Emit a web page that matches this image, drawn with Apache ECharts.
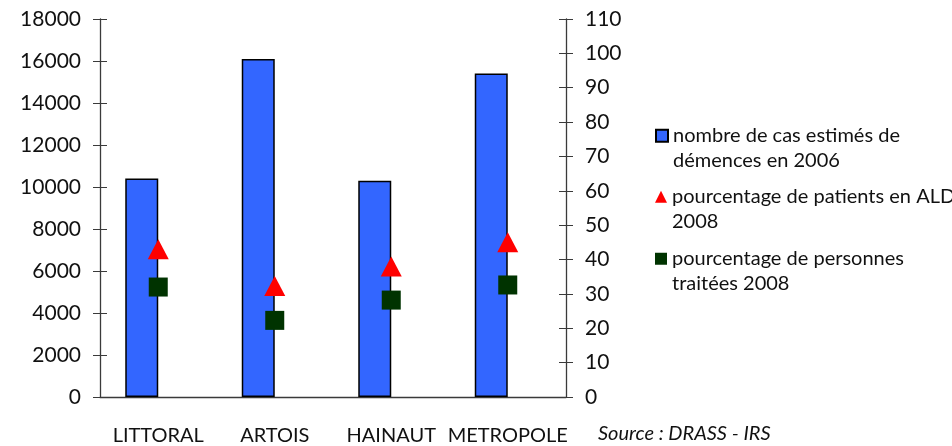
<!DOCTYPE html>
<html>
<head>
<meta charset="utf-8">
<script src="https://cdn.jsdelivr.net/npm/echarts@6/dist/echarts.min.js"></script>
<style>
  html, body { margin: 0; padding: 0; background: #fff; }
  #chart { width: 952px; height: 446px; }
</style>
</head>
<body>
<div id="chart"></div>
<script>
var categories = ["LITTORAL", "ARTOIS", "HAINAUT", "METROPOLE"];
var casEstimes = [10400, 16100, 10300, 15400];
var pctALD = [43, 32.3, 38, 45];
var pctTraitees = [32, 22.3, 28.2, 32.6];
var leftTicks = { min: 0, max: 18000, interval: 2000 };
var rightTicks = { min: 0, max: 110, interval: 10 };

var nameBar = "nombre de cas estimés de\ndémences en 2006";
var nameTri = "pourcentage de patients en ALD\n2008";
var nameSq = "pourcentage de personnes\ntraitées 2008";

var font = "Lato, 'Open Sans', sans-serif";
var axisColor = "#3a3a3a";

var chart = echarts.init(document.getElementById("chart"));

// one legend per entry; the leading empty line keeps the icon on the first text line
function legendAt(name, icon, top) {
  return {
    data: [{ name: name, icon: icon }],
    orient: "vertical",
    left: 650,
    top: top,
    itemWidth: 12,
    itemHeight: 12,
    selectedMode: false,
    formatter: function (n) { return "\n" + n; },
    textStyle: {
      fontFamily: font,
      fontSize: 20,
      color: "#111",
      lineHeight: 24.5
    }
  };
}

chart.setOption({
  animation: false,
  grid: { left: 100, right: 386, top: 19, bottom: 49 },
  legend: [
    legendAt(nameBar, "rect", 94),
    legendAt(nameTri, "triangle", 155),
    legendAt(nameSq, "rect", 217)
  ],
  graphic: [
    {
      type: "text",
      left: 598,
      top: 424,
      style: {
        text: "Source : DRASS - IRS",
        fontFamily: font,
        fontStyle: "italic",
        fontSize: 20,
        fill: "#111"
      }
    }
  ],
  xAxis: [
    {
      type: "category",
      data: categories,
      axisLine: { lineStyle: { color: axisColor, width: 1.3 } },
      axisTick: { length: 7, lineStyle: { color: axisColor } },
      axisLabel: { interval: 0, margin: 29, fontFamily: font, fontSize: 20, color: "#111" }
    },
    {
      type: "category",
      data: categories,
      position: "bottom",
      axisLine: { show: false },
      axisTick: { inside: true, length: 7, lineStyle: { color: axisColor } },
      axisLabel: { show: false }
    }
  ],
  yAxis: [
    {
      type: "value",
      min: leftTicks.min, max: leftTicks.max, interval: leftTicks.interval,
      splitLine: { show: false },
      axisLine: { show: true, lineStyle: { color: axisColor, width: 1.3 } },
      axisTick: { show: true, length: 7, lineStyle: { color: axisColor } },
      axisLabel: {
        margin: 19, fontFamily: font, fontSize: 21, color: "#111",
        formatter: function (v) { return String(v); }
      }
    },
    {
      type: "value",
      position: "right",
      min: rightTicks.min, max: rightTicks.max, interval: rightTicks.interval,
      splitLine: { show: false },
      axisLine: { show: true, lineStyle: { color: axisColor, width: 1.3 } },
      axisTick: { show: true, length: 7, lineStyle: { color: axisColor } },
      axisLabel: { margin: 19, fontFamily: font, fontSize: 21, color: "#111" }
    },
    {
      type: "value",
      position: "left",
      min: leftTicks.min, max: leftTicks.max, interval: leftTicks.interval,
      splitLine: { show: false },
      axisLine: { show: false },
      axisTick: { show: true, inside: true, length: 7, lineStyle: { color: axisColor } },
      axisLabel: { show: false }
    },
    {
      type: "value",
      position: "right",
      min: rightTicks.min, max: rightTicks.max, interval: rightTicks.interval,
      splitLine: { show: false },
      axisLine: { show: false },
      axisTick: { show: true, inside: true, length: 7, lineStyle: { color: axisColor } },
      axisLabel: { show: false }
    }
  ],
  series: [
    {
      name: nameBar,
      type: "bar",
      yAxisIndex: 0,
      barWidth: 33,
      barGap: "0%",
      itemStyle: { color: "#3366ff", borderColor: "#000", borderWidth: 1.5 },
      data: casEstimes
    },
    {
      // empty slot so the bar sits left of the category centre
      name: "vide",
      type: "bar",
      yAxisIndex: 0,
      barWidth: 33,
      data: categories.map(function () { return null; })
    },
    {
      name: nameTri,
      type: "scatter",
      yAxisIndex: 1,
      symbol: "triangle",
      symbolSize: [21, 20],
      itemStyle: { color: "#ff0000", opacity: 1 },
      data: pctALD,
      z: 5
    },
    {
      name: nameSq,
      type: "scatter",
      yAxisIndex: 1,
      symbol: "rect",
      symbolSize: 19,
      itemStyle: { color: "#003300", opacity: 1 },
      data: pctTraitees,
      z: 5
    }
  ]
});
</script>
</body>
</html>
